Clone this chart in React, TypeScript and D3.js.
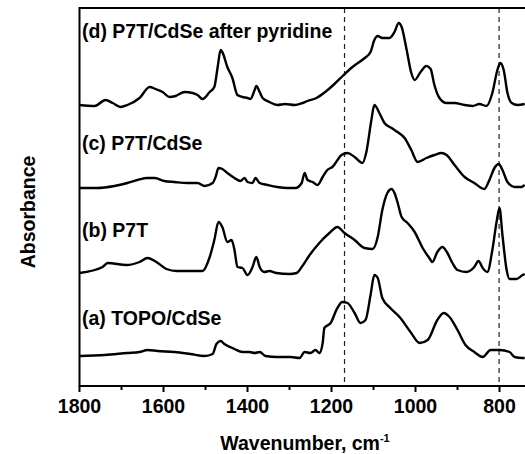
import React from "react";
import * as d3 from "d3";

// FTIR spectra, [wavenumber (cm-1), absorbance (a.u., already offset)]
const spectrumA: [number, number][] = [
  [1800, 0.3], [1740, 0.31], [1686, 0.33], [1657, 0.34], [1638, 0.36], [1614, 0.35],
  [1574, 0.34], [1536, 0.32], [1502, 0.3], [1483, 0.32], [1474, 0.42], [1464, 0.45],
  [1455, 0.42], [1431, 0.37], [1412, 0.34], [1395, 0.34], [1383, 0.33], [1371, 0.34],
  [1357, 0.3], [1329, 0.29], [1298, 0.29], [1276, 0.28], [1264, 0.34], [1250, 0.33],
  [1238, 0.36], [1229, 0.33], [1221, 0.43], [1217, 0.58], [1202, 0.63], [1186, 0.78],
  [1174, 0.84], [1162, 0.83], [1145, 0.73], [1131, 0.63], [1119, 0.66], [1107, 0.91],
  [1098, 1.11], [1090, 1.08], [1079, 0.88], [1060, 0.78], [1036, 0.68], [1012, 0.54],
  [990, 0.43], [971, 0.46], [948, 0.66], [933, 0.73], [919, 0.69], [900, 0.56],
  [881, 0.41], [860, 0.34], [840, 0.29], [821, 0.36], [800, 0.36], [776, 0.34],
  [764, 0.29], [745, 0.28], [740, 0.28],
];

const spectrumB: [number, number][] = [
  [1800, 1.13], [1745, 1.19], [1733, 1.23], [1688, 1.21], [1657, 1.24], [1638, 1.28],
  [1617, 1.24], [1593, 1.17], [1569, 1.15], [1531, 1.15], [1507, 1.15], [1490, 1.29],
  [1479, 1.46], [1469, 1.64], [1460, 1.59], [1448, 1.44], [1438, 1.46], [1431, 1.36],
  [1424, 1.19], [1412, 1.18], [1400, 1.11], [1388, 1.19], [1379, 1.29], [1371, 1.19],
  [1360, 1.14], [1348, 1.15], [1331, 1.13], [1300, 1.12], [1283, 1.13], [1271, 1.19],
  [1252, 1.31], [1229, 1.43], [1205, 1.53], [1186, 1.59], [1169, 1.53], [1145, 1.46],
  [1121, 1.38], [1102, 1.37], [1090, 1.49], [1079, 1.76], [1067, 1.93], [1057, 1.97],
  [1050, 1.93], [1043, 1.84], [1033, 1.69], [1019, 1.63], [1002, 1.54], [983, 1.38],
  [967, 1.28], [960, 1.24], [948, 1.34], [936, 1.39], [924, 1.33], [912, 1.23],
  [900, 1.16], [879, 1.14], [860, 1.19], [850, 1.25], [840, 1.18], [829, 1.14],
  [817, 1.36], [807, 1.64], [800, 1.78], [793, 1.51], [783, 1.16], [776, 1.07],
  [760, 1.07], [745, 1.11], [740, 1.12],
];

const spectrumC: [number, number][] = [
  [1800, 1.98], [1757, 1.98], [1717, 2.0], [1686, 2.03], [1662, 2.06], [1638, 2.08],
  [1621, 2.08], [1598, 2.05], [1574, 2.04], [1543, 2.03], [1519, 2.03], [1502, 2.0],
  [1483, 2.03], [1476, 2.09], [1469, 2.18], [1460, 2.17], [1448, 2.13], [1431, 2.08],
  [1417, 2.05], [1407, 2.08], [1400, 2.04], [1388, 2.03], [1381, 2.08], [1371, 2.03],
  [1352, 2.01], [1329, 1.99], [1305, 1.98], [1286, 1.98], [1271, 2.03], [1264, 2.13],
  [1257, 2.06], [1245, 2.04], [1233, 2.01], [1221, 2.09], [1210, 2.16], [1198, 2.19],
  [1176, 2.31], [1162, 2.33], [1145, 2.29], [1126, 2.23], [1117, 2.34], [1105, 2.66],
  [1098, 2.81], [1086, 2.73], [1074, 2.63], [1057, 2.58], [1043, 2.54], [1026, 2.48],
  [1010, 2.36], [995, 2.24], [974, 2.28], [955, 2.31], [938, 2.33], [926, 2.31],
  [907, 2.21], [883, 2.09], [860, 2.03], [836, 1.97], [824, 2.06], [812, 2.18],
  [802, 2.22], [793, 2.16], [781, 2.04], [764, 1.99], [748, 1.99], [740, 2.01],
];

const spectrumD: [number, number][] = [
  [1800, 2.81], [1764, 2.8], [1738, 2.86], [1721, 2.83], [1702, 2.79], [1686, 2.81],
  [1657, 2.88], [1633, 2.99], [1619, 2.97], [1602, 2.94], [1586, 2.89], [1571, 2.9],
  [1550, 2.94], [1531, 2.93], [1519, 2.91], [1507, 2.87], [1490, 2.94], [1479, 2.99],
  [1471, 3.19], [1464, 3.36], [1460, 3.34], [1448, 3.19], [1436, 3.08], [1424, 2.91],
  [1412, 2.89], [1400, 2.88], [1393, 2.87], [1383, 2.96], [1379, 3.0], [1371, 2.94],
  [1364, 2.88], [1348, 2.84], [1329, 2.81], [1310, 2.82], [1288, 2.81], [1269, 2.83],
  [1257, 2.85], [1236, 2.88], [1212, 2.95], [1193, 3.02], [1171, 3.11], [1150, 3.19],
  [1121, 3.28], [1107, 3.34], [1098, 3.46], [1090, 3.5], [1079, 3.48], [1062, 3.48],
  [1050, 3.54], [1040, 3.63], [1033, 3.59], [1021, 3.36], [1010, 3.13], [1002, 3.06],
  [988, 3.14], [974, 3.2], [964, 3.17], [955, 3.01], [943, 2.88], [926, 2.83],
  [907, 2.83], [883, 2.81], [864, 2.8], [848, 2.82], [831, 2.8], [817, 2.93],
  [805, 3.16], [798, 3.23], [790, 3.16], [781, 2.93], [771, 2.83], [757, 2.81],
  [740, 2.82],
];

const spectra = [spectrumA, spectrumB, spectrumC, spectrumD];
const seriesLabels = [
  "(a) TOPO/CdSe",
  "(b) P7T",
  "(c) P7T/CdSe",
  "(d) P7T/CdSe after pyridine",
];
const labelLevels = [0.61, 1.49, 2.36, 3.48];
const majorTicks = [1800, 1600, 1400, 1200, 1000, 800];
const minorTicks = [1700, 1500, 1300, 1100, 900];
const markerLines = [1169, 801];

const width = 525;
const height = 454;
const font = "Arial, 'Liberation Sans', Helvetica, sans-serif";
const fs = 19.5;

export default function App() {
  const x = d3.scaleLinear().domain([1800, 800]).range([79.5, 499.5]);
  const y = d3.scaleLinear().domain([0, 3.78]).range([386, 8]);
  const plotRight = width;

  const line = d3
    .line<[number, number]>()
    .x((d) => x(d[0]))
    .y((d) => y(d[1]))
    .curve(d3.curveMonotoneX);

  return (
    <div style={{ position: "absolute", left: 0, top: 0 }}>
      <svg width={width} height={height} style={{ display: "block", background: "#fff" }}>
        <rect x={0} y={0} width={width} height={height} fill="#fff" />
        {markerLines.map((w) => (
          <line
            key={w}
            x1={x(w)}
            x2={x(w)}
            y1={y(3.78)}
            y2={y(0)}
            stroke="#222"
            strokeWidth={1.2}
            strokeDasharray="5,4"
          />
        ))}
        {spectra.map((s, i) => (
          <path
            key={i}
            d={line(s) ?? ""}
            fill="none"
            stroke="#000"
            strokeWidth={2.4}
            strokeLinejoin="round"
          />
        ))}
        {/* frame */}
        <line x1={x(1800)} x2={plotRight} y1={y(3.78)} y2={y(3.78)} stroke="#000" strokeWidth={2} />
        <line x1={x(1800)} x2={plotRight} y1={y(0)} y2={y(0)} stroke="#000" strokeWidth={2} />
        <line x1={x(1800)} x2={x(1800)} y1={y(3.78) - 1} y2={y(0) + 1} stroke="#000" strokeWidth={2} />
        {majorTicks.map((t) => (
          <g key={t}>
            <line x1={x(t)} x2={x(t)} y1={y(0)} y2={y(0) + 6} stroke="#000" strokeWidth={2} />
            <text
              x={x(t)}
              y={413}
              textAnchor="middle"
              fontFamily={font}
              fontWeight="bold"
              fontSize={fs}
            >
              {t}
            </text>
          </g>
        ))}
        {minorTicks.map((t) => (
          <line key={t} x1={x(t)} x2={x(t)} y1={y(0)} y2={y(0) + 4} stroke="#000" strokeWidth={2} />
        ))}
        {seriesLabels.map((l, i) => (
          <text
            key={l}
            x={82}
            y={y(labelLevels[i])}
            fontFamily={font}
            fontWeight="bold"
            fontSize={fs}
          >
            {l}
          </text>
        ))}
        <text
          x={305}
          y={450}
          textAnchor="middle"
          fontFamily={font}
          fontWeight="bold"
          fontSize={fs}
        >
          Wavenumber, cm
          <tspan fontSize={11} dy={-8}>-1</tspan>
        </text>
        <text
          transform="translate(35,212) rotate(-90)"
          textAnchor="middle"
          fontFamily={font}
          fontWeight="bold"
          fontSize={fs}
        >
          Absorbance
        </text>
      </svg>
    </div>
  );
}
